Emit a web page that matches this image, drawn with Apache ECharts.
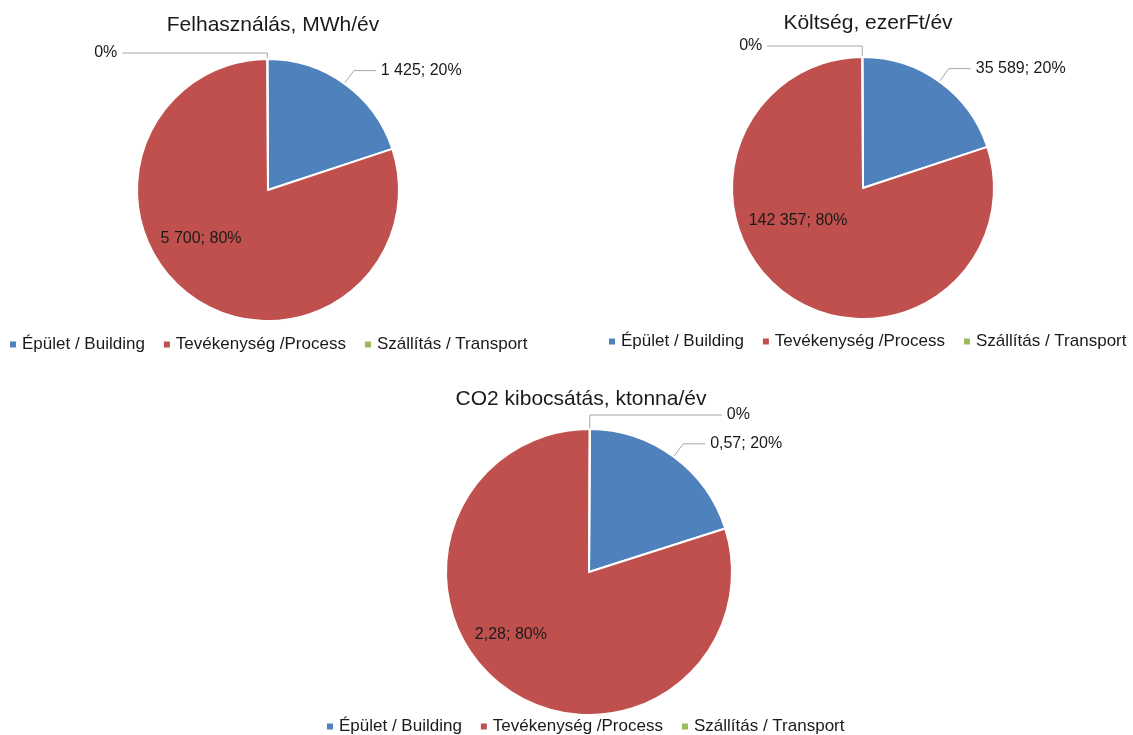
<!DOCTYPE html>
<html style="height: 100%">
<head>
    <meta charset="utf-8">
    <script src="https://cdn.jsdelivr.net/npm/echarts@6/dist/echarts.min.js"></script>
</head>
<body style="height: 100%; margin: 0; background: #fff">
    <div id="main" style="width: 1133px; height: 735px"></div>
    <script type="text/javascript">
        var categories = ['Épület / Building', 'Tevékenység /Process', 'Szállítás / Transport'];
        var colors = ['#4F81BD', '#C0504D', '#9BBB59'];
        var titles = ['Felhasználás, MWh/év', 'Költség, ezerFt/év', 'CO2 kibocsátás, ktonna/év'];
        var usage = [1425, 5700, 0];
        var cost = [35589, 142357, 0];
        var co2 = [0.57, 2.28, 0];

        var font = 'Liberation Sans';

        function huNum(v) {
            var s = (Math.round(v * 100) / 100).toString().split('.');
            var int = s[0].replace(/\B(?=(\d{3})+(?!\d))/g, ' ');
            return s.length > 1 ? int + ',' + (s[1].length < 2 ? s[1] + '0' : s[1]) : int;
        }

        function makeData(vals) {
            return vals.map(function (v, i) {
                return { name: categories[i], value: v };
            });
        }

        // each pie: centre, radius, start angle, label line for 0%, offset for inside label
        function pie(vals, center, radius, startAngle, zeroLine, innerShift) {
            var data = makeData(vals);
            data[1].label = { position: 'inside' };
            data[1].labelLine = { show: false };
            data[2].labelLine = { length: zeroLine[0], length2: zeroLine[1] };
            return {
                type: 'pie',
                center: center,
                radius: radius,
                startAngle: startAngle,
                clockwise: true,
                avoidLabelOverlap: false,
                data: data,
                itemStyle: { borderColor: '#fff', borderWidth: 2 },
                label: {
                    fontFamily: font,
                    fontSize: 16,
                    color: '#1a1a1a',
                    formatter: function (p) {
                        if (p.value === 0) return '0%';
                        return huNum(p.value) + '; ' + Math.round(p.percent) + '%';
                    }
                },
                labelLine: {
                    length: 16,
                    length2: 22,
                    smooth: false,
                    lineStyle: { color: '#a6a6a6', width: 1 }
                },
                labelLayout: function (p) {
                    if (p.dataIndex === 1) return { dx: innerShift[0], dy: innerShift[1] };
                    return {};
                }
            };
        }

        function legend(left, top) {
            return {
                left: left, top: top, width: 525, padding: 0,
                itemWidth: 8, itemHeight: 8, itemGap: 17,
                icon: 'rect',
                data: categories,
                textStyle: { fontFamily: font, fontSize: 17, color: '#1a1a1a' }
            };
        }

        var titleStyle = { fontFamily: font, fontSize: 21, fontWeight: 'normal', color: '#1a1a1a' };

        var chart = echarts.init(document.getElementById('main'));
        chart.setOption({
            color: colors,
            animation: false,
            title: [
                { text: titles[0], left: 268, top: 10, textAlign: 'center', textStyle: titleStyle },
                { text: titles[1], left: 863, top: 8, textAlign: 'center', textStyle: titleStyle },
                { text: titles[2], left: 576, top: 384, textAlign: 'center', textStyle: titleStyle }
            ],
            legend: [legend(8, 336), legend(607, 333), legend(325, 718)],
            series: [
                pie(usage, [268, 190], 131, 90.3, [6, 145], [-27, -7]),
                pie(cost, [863, 188], 131, 90.3, [11, 95], [-25, -23]),
                pie(co2, [589, 572], 143, 89.7, [14, 132], [-34, 3])
            ]
        });
    </script>
</body>
</html>
